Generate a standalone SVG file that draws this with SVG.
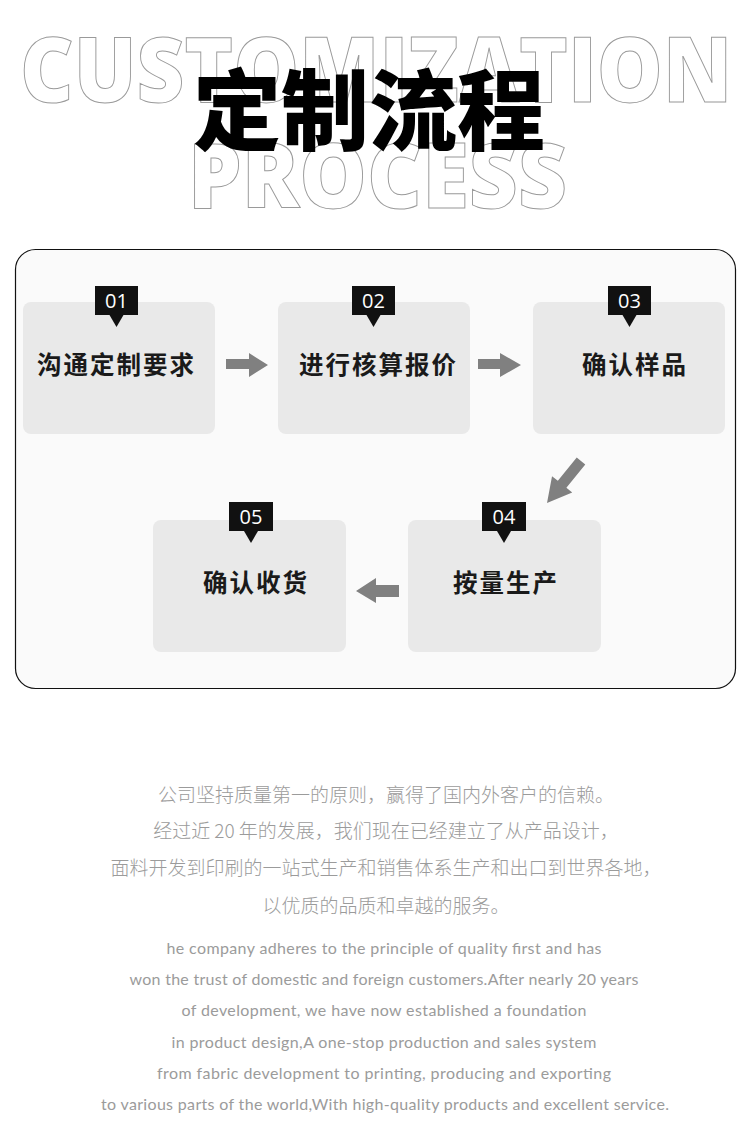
<svg xmlns="http://www.w3.org/2000/svg" width="750" height="1144" viewBox="0 0 750 1144">
<style>
.outline{font-family:"Open Sans","Liberation Sans",sans-serif;font-weight:800;font-size:90px;fill:#fff;stroke:#9a9a9a;stroke-width:1}
.title{font-family:"Noto Sans CJK SC",sans-serif;font-weight:900;font-size:88px;fill:#000}
.box{fill:#e9e9e9}
.tag{fill:#111}
.tagt{font-family:"Open Sans","Liberation Sans",sans-serif;font-size:20px;fill:#fff;text-anchor:middle}
.lbl{font-family:"Noto Sans CJK SC",sans-serif;font-weight:700;font-size:24.5px;letter-spacing:2px;fill:#1a1a1a}
.arrow{fill:#808080}
.cn{font-family:"Noto Sans CJK SC",sans-serif;font-weight:300;font-size:19px;fill:#9b9b9b;text-anchor:middle}
.en{font-family:"Lato","Open Sans",sans-serif;font-size:16px;fill:#9b9b9b;text-anchor:middle}
</style>
<rect width="750" height="1144" fill="#fff"/>
<g id="heading">
<text class="outline" x="20" y="102" textLength="712" lengthAdjust="spacingAndGlyphs">CUSTOMIZATION</text>
<text class="outline" x="188" y="208" textLength="379" lengthAdjust="spacingAndGlyphs">PROCESS</text>
<text class="title" x="369" y="143" text-anchor="middle">定制流程</text>
</g>
<rect id="panel" x="15.5" y="249.5" width="720" height="439" rx="20" fill="#fafafa" stroke="#111" stroke-width="1.2"/>
<g id="connectors">
<path class="arrow" d="M226 359H249V353L268 365L249 377V369H226Z"/>
<path class="arrow" d="M478 359H500V353L521 365L500 377V369H478Z"/>
<path class="arrow" d="M0 -5.5H30V-13L54 0L30 13V5.5H0Z" transform="translate(581 461) rotate(129)"/>
<path class="arrow" d="M399 585H376V578L356 591L376 603V597H399Z"/>
</g>
<g id="node1">
<rect class="box" x="23" y="302" width="192" height="132" rx="8"/>
<rect class="tag" x="95" y="286" width="43" height="29"/>
<path class="tag" d="M109.5 315H123.5L116.5 327Z"/>
<text class="tagt" x="116.5" y="308">01</text>
<text class="lbl" x="37" y="374">沟通定制要求</text>
</g>
<g id="node2">
<rect class="box" x="278" y="302" width="192" height="132" rx="8"/>
<rect class="tag" x="352" y="286" width="43" height="29"/>
<path class="tag" d="M366.5 315H380.5L373.5 327Z"/>
<text class="tagt" x="373.5" y="308">02</text>
<text class="lbl" x="299" y="374">进行核算报价</text>
</g>
<g id="node3">
<rect class="box" x="533" y="302" width="192" height="132" rx="8"/>
<rect class="tag" x="608" y="286" width="43" height="29"/>
<path class="tag" d="M622.5 315H636.5L629.5 327Z"/>
<text class="tagt" x="629.5" y="308">03</text>
<text class="lbl" x="582" y="374">确认样品</text>
</g>
<g id="node4">
<rect class="box" x="408" y="520" width="193" height="132" rx="8"/>
<rect class="tag" x="482" y="502" width="44" height="29"/>
<path class="tag" d="M497 531H511L504 543Z"/>
<text class="tagt" x="504" y="524">04</text>
<text class="lbl" x="453" y="592">按量生产</text>
</g>
<g id="node5">
<rect class="box" x="153" y="520" width="193" height="132" rx="8"/>
<rect class="tag" x="229" y="502" width="44" height="29"/>
<path class="tag" d="M244 531H258L251 543Z"/>
<text class="tagt" x="251" y="524">05</text>
<text class="lbl" x="203" y="592">确认收货</text>
</g>
<g id="body-cn">
<text class="cn" x="386" y="802">公司坚持质量第一的原则，赢得了国内外客户的信赖。</text>
<text class="cn" x="386" y="838">经过近 20 年的发展，我们现在已经建立了从产品设计，</text>
<text class="cn" x="386" y="875">面料开发到印刷的一站式生产和销售体系生产和出口到世界各地，</text>
<text class="cn" x="386" y="913">以优质的品质和卓越的服务。</text>
</g>
<g id="body-en">
<text class="en" x="384" y="954" textLength="435">he company adheres to the principle of quality first and has</text>
<text class="en" x="384" y="985" textLength="509">won the trust of domestic and foreign customers.After nearly 20 years</text>
<text class="en" x="384" y="1016" textLength="405">of development, we have now established a foundation</text>
<text class="en" x="384" y="1048" textLength="425">in product design,A one-stop production and sales system</text>
<text class="en" x="384" y="1079" textLength="454">from fabric development to printing, producing and exporting</text>
<text class="en" x="385" y="1110" textLength="568">to various parts of the world,With high-quality products and excellent service.</text>
</g>
</svg>
